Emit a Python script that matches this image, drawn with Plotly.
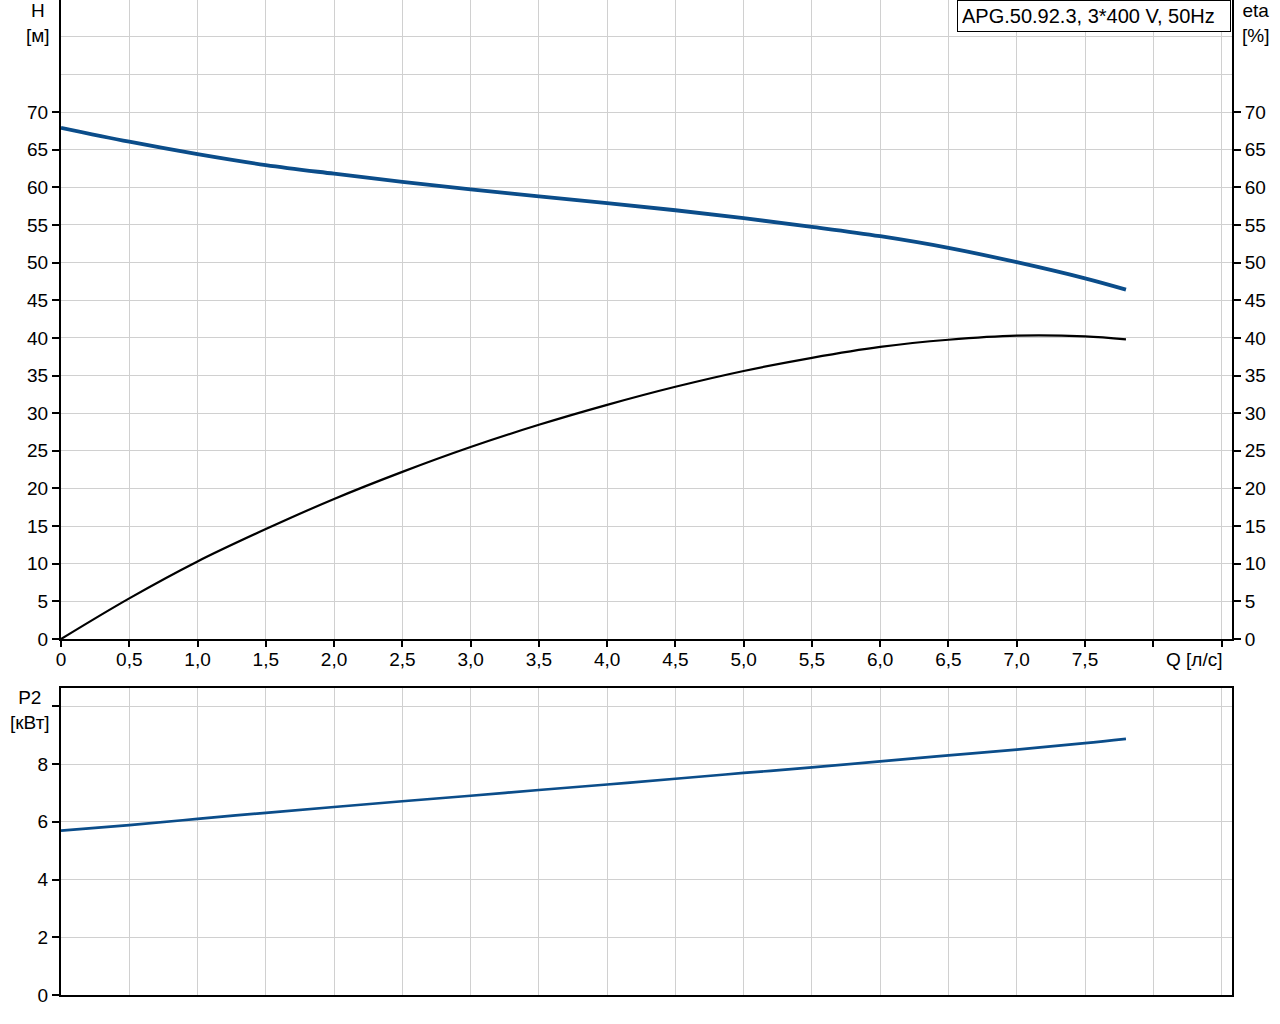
import plotly.graph_objects as go

# ---- data ----
q = [0, 0.5, 1.0, 1.5, 2.0, 2.5, 3.0, 3.5, 4.0, 4.5, 5.0, 5.5, 6.0, 6.5, 7.0, 7.5, 7.8]
head = [67.9, 66.05, 64.4, 62.95, 61.8, 60.72, 59.72, 58.8, 57.9, 56.95, 55.9, 54.75,
        53.5, 51.95, 50.05, 47.9, 46.4]
eta = [0, 5.4, 10.3, 14.6, 18.6, 22.2, 25.5, 28.45, 31.1, 33.5, 35.6, 37.35, 38.8,
       39.75, 40.3, 40.2, 39.8]
p2 = [5.69, 5.88, 6.1, 6.31, 6.51, 6.71, 6.9, 7.1, 7.29, 7.49, 7.69, 7.88, 8.09,
      8.3, 8.5, 8.72, 8.87]

x_ticks = [i * 0.5 for i in range(18)]
x_labels = ["0", "0,5", "1,0", "1,5", "2,0", "2,5", "3,0", "3,5", "4,0", "4,5",
            "5,0", "5,5", "6,0", "6,5", "7,0", "7,5", "", ""]
h_ticks = list(range(0, 75, 5))
h_labels = [str(v) for v in h_ticks]
p_ticks = [0, 2, 4, 6, 8, 10]
p_labels = ["0", "2", "4", "6", "8", ""]

title_text = "APG.50.92.3, 3*400 V, 50Hz"

# ---- layout geometry (pixels of 1280x1024 page) ----
W, Hh = 1280, 1024
L, R, T, B = 61, 1232, 0, 995


def px(x):
    return (x - L) / (R - L)


def py(y):
    return (B - y) / (B - T)


BLUE = "#0b4d8a"
GRID = "#d0d0d0"
FONT = "Liberation Sans, Arial, sans-serif"
FS = 19

fig = go.Figure()
fig.add_trace(go.Scatter(x=q, y=head, mode="lines", line=dict(color=BLUE, width=3.8, shape="spline"),
                         xaxis="x", yaxis="y", showlegend=False))
fig.add_trace(go.Scatter(x=q, y=eta, mode="lines", line=dict(color="black", width=2.2, shape="spline"),
                         xaxis="x", yaxis="y3", showlegend=False))
fig.add_trace(go.Scatter(x=q, y=p2, mode="lines", line=dict(color=BLUE, width=2.7, shape="spline"),
                         xaxis="x2", yaxis="y2", showlegend=False))

xr = [0, (R - L) / ((1085 - L) / 7.5)]
top_range = [0, 639 / ((639 - 112) / 70)]
bot_range = [0, (995 - 688) / ((995 - 764) / 8)]

common_x = dict(range=xr, tickvals=x_ticks, showgrid=True, gridcolor=GRID, gridwidth=1.2,
                zeroline=False, showline=True, linecolor="black", linewidth=2,
                tickfont=dict(family=FONT, size=FS, color="black"))

fig.update_layout(
    width=W, height=Hh,
    margin=dict(l=L, r=W - R, t=T, b=Hh - B),
    paper_bgcolor="white", plot_bgcolor="white",
    font=dict(family=FONT, size=FS, color="black"),
    xaxis=dict(common_x, domain=[0, 1], anchor="y", ticktext=x_labels, ticks="outside",
               ticklen=6, tickwidth=2, tickcolor="black", ticklabelstandoff=-4),
    yaxis=dict(domain=[py(639), 1], range=top_range, tickvals=h_ticks, ticktext=h_labels,
               ticks="outside", ticklen=7, tickwidth=2, tickcolor="black",
               showgrid=True, gridcolor=GRID, gridwidth=1.2, zeroline=False,
               showline=True, linecolor="black", linewidth=2,
               minor=dict(tickvals=[75, 80], showgrid=True, gridcolor=GRID, gridwidth=1.2, ticks=""),
               tickfont=dict(family=FONT, size=FS, color="black"), anchor="x"),
    yaxis3=dict(overlaying="y", side="right", range=top_range, tickvals=h_ticks, ticktext=h_labels,
                ticks="outside", ticklen=7, tickwidth=2, tickcolor="black",
                showgrid=False, zeroline=False, showline=True, linecolor="black", linewidth=2,
                tickfont=dict(family=FONT, size=FS, color="black"), anchor="x"),
    xaxis2=dict(common_x, domain=[0, 1], anchor="y2", showticklabels=False, ticks="",
                mirror=True),
    yaxis2=dict(domain=[0, py(688)], range=bot_range, tickvals=p_ticks, ticktext=p_labels,
                ticks="outside", ticklen=7, tickwidth=2, tickcolor="black",
                showgrid=True, gridcolor=GRID, gridwidth=1.2, zeroline=False,
                showline=True, linecolor="black", linewidth=2, mirror=True,
                tickfont=dict(family=FONT, size=FS, color="black"), anchor="x2"),
)

ann = []
ann.append(dict(text="H<br>[м]", x=px(38), y=py(-2), xref="paper", yref="paper",
                xanchor="center", yanchor="top", showarrow=False,
                font=dict(family=FONT, size=FS, color="black")))
ann.append(dict(text="eta<br>[%]", x=px(1255), y=py(-2), xref="paper", yref="paper",
                xanchor="center", yanchor="top", showarrow=False,
                font=dict(family=FONT, size=FS, color="black")))
ann.append(dict(text="P2<br>[кВт]", x=px(30), y=py(685), xref="paper", yref="paper",
                xanchor="center", yanchor="top", showarrow=False,
                font=dict(family=FONT, size=FS, color="black")))
ann.append(dict(text="Q [л/с]", x=px(1194), y=py(659), xref="paper", yref="paper",
                xanchor="center", yanchor="middle", showarrow=False,
                font=dict(family=FONT, size=FS, color="black")))
ann.append(dict(text=title_text, x=px(1231), y=py(32), xref="paper", yref="paper",
                xanchor="right", yanchor="bottom", showarrow=False, align="left",
                width=264, bordercolor="black", borderwidth=1, borderpad=4, bgcolor="white",
                font=dict(family=FONT, size=20, color="black")))
fig.update_layout(annotations=ann)

fig.write_html("out.html", config={"displayModeBar": False},
               post_script="document.body.style.margin='0';")
